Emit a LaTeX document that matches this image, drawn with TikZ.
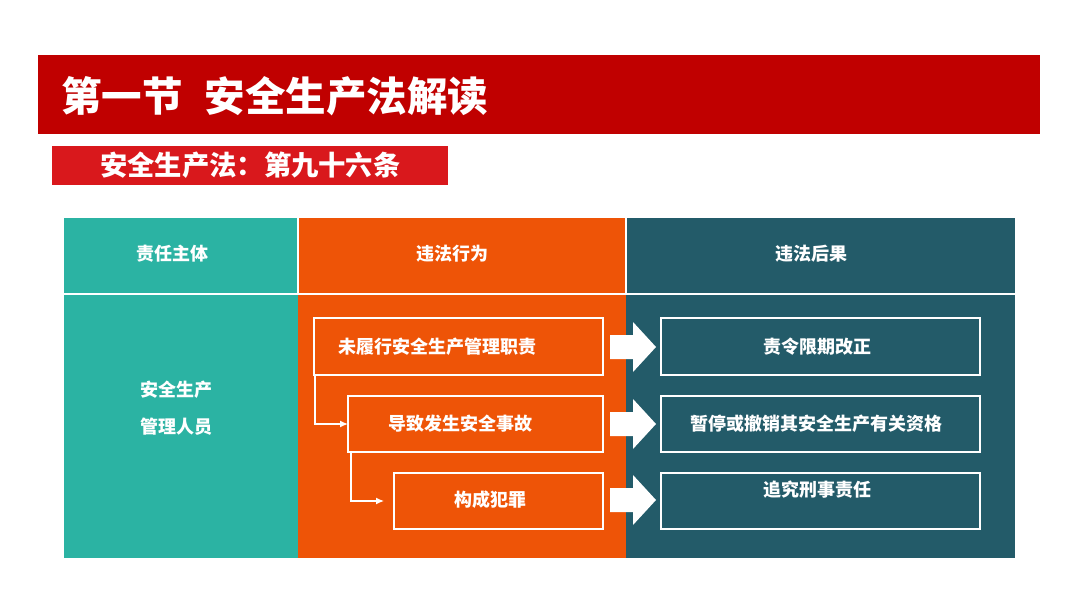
\documentclass[tikz,border=0pt]{standalone}
\usepackage{fontspec}
\setmainfont{Noto Sans CJK SC}
\usetikzlibrary{calc,arrows.meta}
\definecolor{titlered}{HTML}{C00000}
\definecolor{subred}{HTML}{D9181C}
\definecolor{tealc}{HTML}{2BB3A3}
\definecolor{orangec}{HTML}{EE5407}
\definecolor{darkteal}{HTML}{235B69}
\tikzset{
  cell/.style={draw=none,inner sep=0pt,outer sep=0pt,anchor=north west},
  wbox/.style={draw=white,line width=1.3pt,inner sep=0pt,outer sep=0pt,anchor=north west},
  wtxt/.style={text=white,font=\bfseries\fontsize{18}{22}\selectfont,inner sep=0pt},
  bigarrow/.style={fill=white,draw=none},
  thinarrow/.style={draw=white,line width=1.3pt,-{Latex[length=8pt,width=7pt]}},
  sepline/.style={draw=white,line width=1.5pt}
}
\begin{document}
\begin{tikzpicture}[x=1pt,y=-1pt]
\useasboundingbox (0,0) rectangle (1080,608);
\fill[white] (0,0) rectangle (1080,608);
% title bars
\node[cell,fill=titlered,minimum width=1002pt,minimum height=79pt] (title) at (38,55) {};
\node[anchor=west,inner sep=0pt,text=white,font=\bfseries\fontsize{40.5}{44}\selectfont] (titletxt) at (61,96) {第一节\hspace{22pt}安全生产法解读};
\node[cell,fill=subred,minimum width=396pt,minimum height=39pt] (sub) at (52,146) {};
\node[anchor=west,inner sep=0pt,text=white,font=\bfseries\fontsize{27.3}{30}\selectfont] (subtxt) at (100,165) {安全生产法：第九十六条};
% table cells
\node[cell,fill=tealc,minimum width=234pt,minimum height=340pt] (colA) at (64,218) {};
\node[cell,fill=orangec,minimum width=328pt,minimum height=340pt] (colB) at (298,218) {};
\node[cell,fill=darkteal,minimum width=389pt,minimum height=340pt] (colC) at (626,218) {};
\draw[sepline] (64,294) -- (1015,294);
\draw[sepline] (298,218) -- (298,294);
\draw[sepline] (626,218) -- (626,294);
% headers
\node[wtxt] (hA) at (172,254) {责任主体};
\node[wtxt] (hB) at (452,254) {违法行为};
\node[wtxt] (hC) at (811,254) {违法后果};
% left body
\node[wtxt,align=center,font=\bfseries\fontsize{18}{37}\selectfont] (subj) at (176,408) {安全生产\\管理人员};
% orange boxes
\node[wbox,minimum width=289pt,minimum height=57pt] (o1) at (314,318) {};
\node[wbox,minimum width=255pt,minimum height=56pt] (o2) at (348,396) {};
\node[wbox,minimum width=209pt,minimum height=56pt] (o3) at (394,473) {};
\node[wtxt] (o1t) at (437,347) {未履行安全生产管理职责};
\node[wtxt] (o2t) at (460,424) {导致发生安全事故};
\node[wtxt] (o3t) at (490,500) {构成犯罪};
% thin connectors
\draw[thinarrow] ($(o1.south west)+(1,0)$) |- (o2.west);
\draw[thinarrow] ($(o2.south west)+(3,0)$) |- ($(o3.west)+(-10,0)$);
% teal boxes
\node[wbox,minimum width=319pt,minimum height=57pt] (c1) at (661,318) {};
\node[wbox,minimum width=319pt,minimum height=56pt] (c2) at (661,396) {};
\node[wbox,minimum width=319pt,minimum height=56pt] (c3) at (661,473) {};
\node[wtxt] (c1t) at (817,347) {责令限期改正};
\node[wtxt] (c2t) at (816,424) {暂停或撤销其安全生产有关资格};
\node[wtxt] (c3t) at (817,490) {追究刑事责任};
% block arrows
\foreach \yy in {347,424,500}{
  \fill[bigarrow] (610,\yy-12) -- (633,\yy-12) -- (633,\yy-25) -- (656,\yy) -- (633,\yy+25) -- (633,\yy+12) -- (610,\yy+12) -- cycle;
}
\end{tikzpicture}
\end{document}
